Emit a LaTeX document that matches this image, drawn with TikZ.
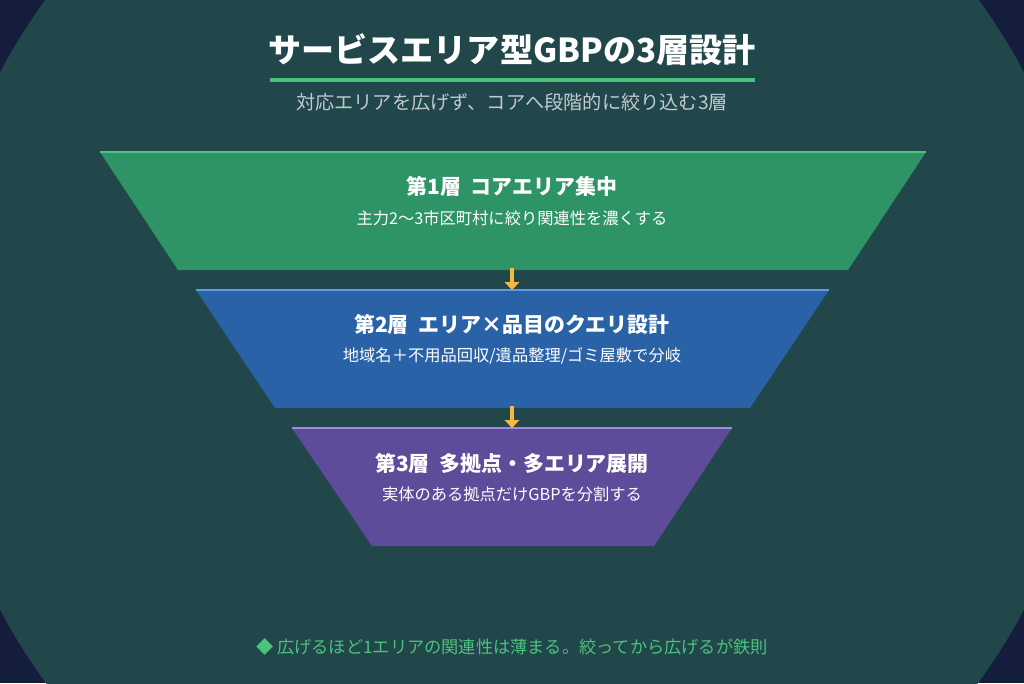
\documentclass[tikz,border=0pt]{standalone}
\usepackage{fontspec}
\setmainfont{Noto Sans CJK JP}
\usetikzlibrary{arrows.meta}
\definecolor{bgnavy}{HTML}{141E3C}
\definecolor{bgteal}{HTML}{22474B}
\definecolor{lgreen}{HTML}{2E9466}
\definecolor{lgreenE}{HTML}{4CC27F}
\definecolor{lblue}{HTML}{2A62A8}
\definecolor{lblueE}{HTML}{5B9BE8}
\definecolor{lpurple}{HTML}{5E4B9A}
\definecolor{lpurpleE}{HTML}{A08AE0}
\definecolor{arrowy}{HTML}{F5B840}
\definecolor{subgray}{HTML}{C0C8D0}
\tikzset{
  head/.style={text=white,font=\bfseries\fontsize{15.7}{18}\selectfont},
  sub/.style={text=white,font=\fontsize{12.2}{14}\selectfont},
  down/.style={arrowy,line width=3.5pt,-{Triangle[length=6pt,width=11pt]}}
}
\begin{document}
\begin{tikzpicture}[x=0.75pt,y=-0.75pt]
    % Background
    \fill[bgnavy] (0,0) rectangle (1024,683);
    \begin{scope}
      \clip (0,0) rectangle (1024,683);
      \fill[bgteal] (512,341) circle (578);
    \end{scope}
    \useasboundingbox (0,0) rectangle (1024,683);

    % Title
    \node[text=white,font=\bfseries\fontsize{24.8}{28}\selectfont] (title) at (512,50) {サービスエリア型GBPの3層設計};
    \draw[lgreenE,line width=2.4pt] (270,80) -- (755,80);
    \node[text=subgray,font=\fontsize{14.4}{16}\selectfont] (subtitle) at (512,102) {対応エリアを広げず、コアへ段階的に絞り込む3層};

    % Layer 1
    \fill[lgreen] (100,152) -- (926,152) -- (848,270) -- (178,270) -- cycle;
    \draw[lgreenE,line width=1.2pt] (100,152) -- (926,152);
    \node[head] (h1) at (512,186) {第1層\ \ コアエリア集中};
    \node[sub] (s1) at (512,218) {主力2〜3市区町村に絞り関連性を濃くする};
    \coordinate (b1) at (512,268);

    % Layer 2
    \fill[lblue] (196,290) -- (829,290) -- (750,408) -- (275,408) -- cycle;
    \draw[lblueE,line width=1.2pt] (196,290) -- (829,290);
    \node[head] (h2) at (512,324) {第2層\ \ エリア×品目のクエリ設計};
    \node[sub] (s2) at (512,356) {地域名＋不用品回収/遺品整理/ゴミ屋敷で分岐};
    \coordinate (t2) at (512,290);
    \coordinate (b2) at (512,406);

    % Layer 3
    \fill[lpurple] (292,428) -- (732,428) -- (654,546) -- (372,546) -- cycle;
    \draw[lpurpleE,line width=1.2pt] (292,428) -- (732,428);
    \node[head] (h3) at (512,463) {第3層\ \ 多拠点・多エリア展開};
    \node[sub] (s3) at (512,494) {実体のある拠点だけGBPを分割する};
    \coordinate (t3) at (512,428);

    % Arrows
    \draw[down] (b1) -- (t2);
    \draw[down] (b2) -- (t3);

    % Footer
    \node[text=lgreenE,font=\fontsize{12.9}{15}\selectfont] (foot) at (512,647) {◆\ 広げるほど1エリアの関連性は薄まる。絞ってから広げるが鉄則};
\end{tikzpicture}
\end{document}
